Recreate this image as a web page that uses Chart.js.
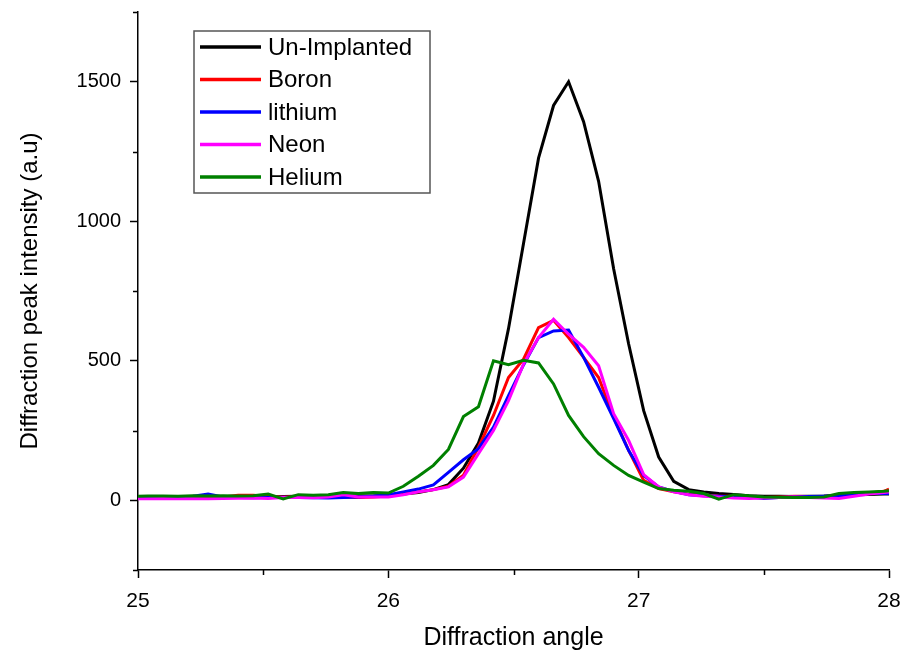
<!DOCTYPE html>
<html>
<head>
<meta charset="utf-8">
<script src="https://cdn.jsdelivr.net/npm/chart.js@4.4.1/dist/chart.umd.min.js"></script>
<style>
  html, body { margin: 0; padding: 0; background: #fff; }
  #wrap { width: 907px; height: 659px; }
</style>
</head>
<body>
<div id="wrap"><canvas id="xrd" width="907" height="659"></canvas></div>
<script>
// Diffraction angle (degrees)
const angles = [25.00, 25.04, 25.10, 25.16, 25.22, 25.28, 25.34, 25.40, 25.46, 25.52, 25.58, 25.64, 25.70,
  25.76, 25.82, 25.88, 25.94, 26.00, 26.06, 26.12, 26.18, 26.24, 26.30, 26.36, 26.42, 26.48, 26.54,
  26.60, 26.66, 26.72, 26.78, 26.84, 26.90, 26.96, 27.02, 27.08, 27.14, 27.20, 27.26, 27.32, 27.38,
  27.44, 27.50, 27.56, 27.62, 27.68, 27.74, 27.80, 27.86, 27.92, 27.98, 28.00];

// Diffraction peak intensity (a.u) per sample
const unImplanted = [10, 10, 12, 10, 12, 11, 13, 12, 14, 12, 13, 14, 12, 15, 14, 16, 15,
  18, 22, 28, 38, 56, 115, 205, 355, 615, 920, 1226, 1415, 1500, 1357, 1143, 830, 560, 321, 155, 68, 38,
  30, 24, 21, 16, 14, 14, 13, 14, 15, 18, 20, 21, 22, 22];
const boron = [8, 9, 10, 10, 11, 10, 12, 18, 18, 14, 12, 13, 12, 11, 12, 10, 12,
  15, 22, 30, 38, 50, 90, 190, 304, 440, 506, 619, 645, 583, 512, 440, 298, 179, 71, 42, 30, 22,
  18, 15, 14, 12, 10, 12, 14, 13, 12, 15, 20, 25, 32, 40];
const lithium = [8, 9, 10, 12, 14, 22, 12, 10, 9, 10, 11, 10, 9, 8, 10, 12, 15,
  20, 30, 40, 55, 100, 145, 185, 262, 375, 485, 583, 607, 610, 512, 405, 293, 178, 89, 48, 32, 20,
  16, 14, 12, 12, 6, 10, 12, 13, 14, 16, 20, 24, 24, 24];
const neon = [5, 5, 6, 5, 6, 5, 6, 7, 8, 6, 10, 10, 9, 12, 20, 12, 12,
  12, 20, 30, 38, 48, 83, 167, 250, 357, 488, 583, 649, 595, 548, 482, 310, 214, 92, 48, 30, 20,
  14, 12, 8, 6, 8, 10, 12, 10, 8, 6, 14, 22, 28, 30];
const helium = [14, 15, 15, 14, 16, 15, 16, 15, 16, 22, 5, 20, 18, 20, 28, 24, 28,
  26, 50, 86, 125, 182, 300, 335, 500, 486, 502, 492, 417, 304, 228, 167, 125, 89, 65, 42, 36, 32,
  24, 4, 20, 16, 12, 11, 10, 10, 12, 24, 28, 30, 32, 34];

const seriesNames = ['Un-Implanted', 'Boron', 'lithium', 'Neon', 'Helium'];
const seriesColors = ['#000000', '#ff0000', '#0000ff', '#ff00ff', '#008000'];
const seriesValues = [unImplanted, boron, lithium, neon, helium];

const xTickLabels = [25, 26, 27, 28];
const yTickLabels = [0, 500, 1000, 1500];

const FONT = "'Liberation Sans', Arial, Helvetica, sans-serif";
Chart.defaults.font.family = FONT;
Chart.defaults.color = '#000';

const toPoints = vals => angles.map((a, i) => ({ x: a, y: vals[i] }));

const datasets = seriesNames.map((name, i) => ({
  label: name,
  data: toPoints(seriesValues[i]),
  borderColor: seriesColors[i],
  backgroundColor: seriesColors[i],
  borderWidth: 3,
  pointRadius: 0,
  tension: 0,
  fill: false,
  // later series are painted over earlier ones
  order: seriesNames.length - i
}));

// short minor tick marks between the labelled ones
const minorTicks = {
  id: 'minorTicks',
  afterDraw(chart) {
    const { ctx, scales: { x, y } } = chart;
    ctx.save();
    ctx.strokeStyle = '#000';
    ctx.lineWidth = 1.5;
    ctx.beginPath();
    x.ticks.forEach(t => {
      if (!xTickLabels.includes(t.value)) {
        const px = Math.round(x.getPixelForValue(t.value)) + 0.5;
        ctx.moveTo(px, x.top);
        ctx.lineTo(px, x.top + 5);
      }
    });
    y.ticks.forEach(t => {
      if (!yTickLabels.includes(t.value)) {
        const py = Math.round(y.getPixelForValue(t.value)) + 0.5;
        ctx.moveTo(y.right, py);
        ctx.lineTo(y.right - 5, py);
      }
    });
    ctx.stroke();
    ctx.restore();
  }
};

// boxed legend placed inside the plot area
const boxedLegend = {
  id: 'boxedLegend',
  afterDraw(chart) {
    const { ctx, chartArea } = chart;
    const left = chartArea.left + 56, top = chartArea.top + 19;
    const w = 236, h = 162, rowH = 32.5;
    ctx.save();
    ctx.fillStyle = '#fff';
    ctx.fillRect(left, top, w, h);
    ctx.strokeStyle = '#555';
    ctx.lineWidth = 1.5;
    ctx.strokeRect(left, top, w, h);
    ctx.font = '24px ' + FONT;
    ctx.textBaseline = 'middle';
    ctx.textAlign = 'left';
    chart.data.datasets.forEach((ds, i) => {
      const cy = top + 16 + i * rowH;
      ctx.strokeStyle = ds.borderColor;
      ctx.lineWidth = 3.5;
      ctx.beginPath();
      ctx.moveTo(left + 6, cy);
      ctx.lineTo(left + 67, cy);
      ctx.stroke();
      ctx.fillStyle = '#000';
      ctx.fillText(ds.label, left + 74, cy + 1);
    });
    ctx.restore();
  }
};

new Chart(document.getElementById('xrd'), {
  type: 'line',
  data: { datasets },
  plugins: [minorTicks, boxedLegend],
  options: {
    responsive: false,
    devicePixelRatio: 1,
    animation: false,
    layout: { padding: { top: 12, right: 18, left: 0, bottom: 0 } },
    plugins: { legend: { display: false }, tooltip: { enabled: false } },
    scales: {
      x: {
        type: 'linear',
        min: 25,
        max: 28,
        afterFit: s => { s.height = 89; s.paddingLeft = 0; s.paddingRight = 0; },
        border: { color: '#000', width: 1.5 },
        grid: {
          drawOnChartArea: false,
          tickLength: 8,
          tickWidth: 1.5,
          tickColor: c => (c.tick && xTickLabels.includes(c.tick.value)) ? '#000' : 'rgba(0,0,0,0)'
        },
        ticks: {
          stepSize: 0.5,
          padding: 11,
          font: { size: 21 },
          color: '#000',
          callback: v => xTickLabels.includes(v) ? String(v) : ''
        },
        title: {
          display: true,
          text: 'Diffraction angle',
          font: { size: 25 },
          color: '#000',
          padding: { top: 0, bottom: 6 }
        }
      },
      y: {
        type: 'linear',
        min: -250,
        max: 1750,
        afterFit: s => { s.width = 138; s.paddingTop = 0; s.paddingBottom = 0; },
        border: { color: '#000', width: 1.5 },
        grid: {
          drawOnChartArea: false,
          tickLength: 8,
          tickWidth: 1.5,
          tickColor: c => (c.tick && yTickLabels.includes(c.tick.value)) ? '#000' : 'rgba(0,0,0,0)'
        },
        ticks: {
          stepSize: 250,
          padding: 9,
          font: { size: 20 },
          color: '#000',
          callback: v => yTickLabels.includes(v) ? String(v) : ''
        },
        title: {
          display: true,
          text: 'Diffraction peak intensity (a.u)',
          font: { size: 24 },
          color: '#000',
          padding: { top: 16, bottom: 0 }
        }
      }
    }
  }
});
</script>
</body>
</html>
